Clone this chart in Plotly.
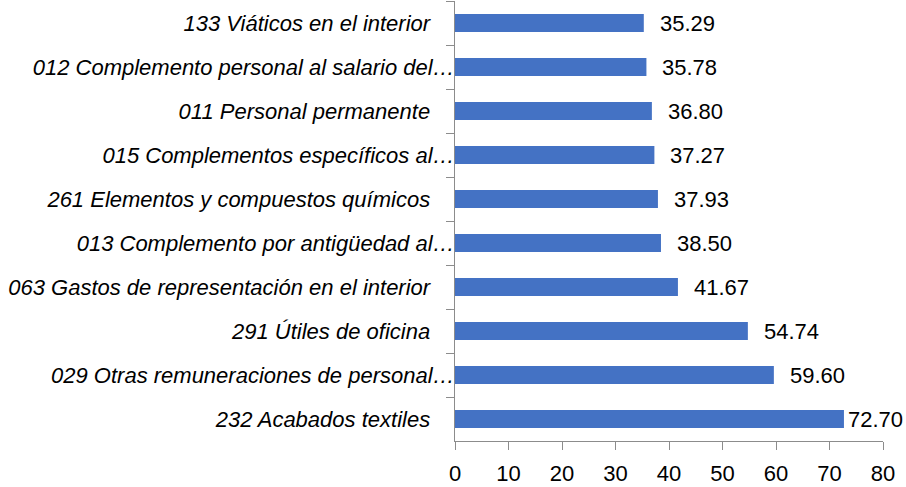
import plotly.graph_objects as go

categories = [
    "133 Viáticos en el interior",
    "012 Complemento personal al salario del…",
    "011 Personal permanente",
    "015 Complementos específicos al…",
    "261 Elementos y compuestos químicos",
    "013 Complemento por antigüedad al…",
    "063 Gastos de representación en el interior",
    "291 Útiles de oficina",
    "029 Otras remuneraciones de personal…",
    "232 Acabados textiles",
]
values = [35.29, 35.78, 36.80, 37.27, 37.93, 38.50, 41.67, 54.74, 59.60, 72.70]
x_ticks = [0, 10, 20, 30, 40, 50, 60, 70, 80]

FONT = "Liberation Sans, Arial, sans-serif"
AXIS_COLOR = "#8c8c8c"
XMAX = 80

def tick_label(c):
    # labels that are not truncated carry trailing spacing as in the source
    return c if c.endswith("…") else c + "\u00a0\u00a0\u00a0\u00a0"

labels = [tick_label(c) for c in categories]

fig = go.Figure(go.Bar(
    x=values, y=labels, orientation="h",
    marker=dict(color="#4472C4", line=dict(width=0)),
    width=0.41,
    hoverinfo="x+y",
))

for c, v in zip(labels, values):
    fig.add_annotation(
        x=v, y=c, xref="x", yref="y", text=f"{v:.2f}", showarrow=False,
        xanchor="left", yanchor="middle",
        xshift=2 if v > 0.85 * XMAX else 14,
        font=dict(family=FONT, size=22, color="#000000"),
    )

fig.update_layout(
    width=906, height=487,
    margin=dict(l=455, r=23, t=1, b=46, autoexpand=False),
    paper_bgcolor="white", plot_bgcolor="white",
    showlegend=False,
    font=dict(family=FONT, size=22, color="#000000"),
    xaxis=dict(
        range=[0, XMAX], tickvals=x_ticks, ticktext=[str(t) for t in x_ticks],
        showgrid=False, zeroline=False,
        showline=True, linecolor=AXIS_COLOR, linewidth=1,
        ticks="outside", ticklen=8, tickcolor=AXIS_COLOR, tickwidth=1,
        ticklabelstandoff=5,
        tickfont=dict(family=FONT, size=22, color="#000000"),
    ),
    yaxis=dict(
        type="category", autorange="reversed",
        showgrid=False, zeroline=False,
        showline=True, linecolor=AXIS_COLOR, linewidth=1,
        ticks="outside", ticklen=8, tickcolor=AXIS_COLOR, tickwidth=1,
        tickson="boundaries",
        ticklabelstandoff=-5,
        tickfont=dict(family=FONT, size=22, color="#000000", style="italic"),
    ),
)

fig.write_html("out.html", config={"displayModeBar": False},
               post_script="document.body.style.margin='0';")
